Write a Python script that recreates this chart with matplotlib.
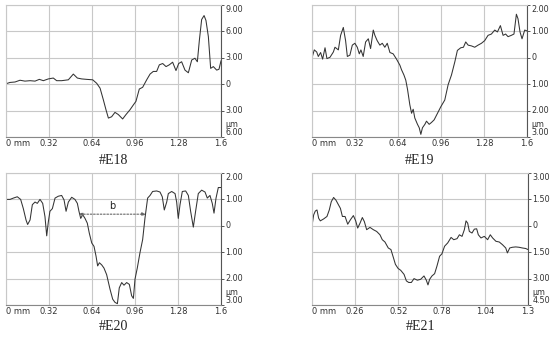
import matplotlib
matplotlib.use("Agg")
import matplotlib.pyplot as plt
import numpy as np

# ---------------- data ----------------
e18_x = [0.0, 0.03, 0.067, 0.104, 0.141, 0.179, 0.216, 0.248, 0.278, 0.315, 0.352, 0.377, 0.414,
         0.464, 0.501, 0.531, 0.563, 0.600, 0.645, 0.675, 0.700, 0.724, 0.744, 0.762, 0.786, 0.811,
         0.836, 0.868, 0.893, 0.923, 0.948, 0.967, 0.992, 1.017, 1.047, 1.072, 1.096, 1.121, 1.141,
         1.166, 1.191, 1.215, 1.240, 1.265, 1.285, 1.307, 1.332, 1.357, 1.382, 1.406, 1.424, 1.439,
         1.456, 1.474, 1.488, 1.506, 1.523, 1.543, 1.568, 1.585, 1.600]
e18_y = [0.05, 0.2, 0.25, 0.45, 0.35, 0.4, 0.35, 0.55, 0.4, 0.6, 0.7, 0.4, 0.4,
         0.5, 1.15, 0.7, 0.6, 0.55, 0.5, 0.1, -0.45, -1.75, -2.9, -3.85, -3.7, -3.2,
         -3.45, -3.95, -3.45, -2.9, -2.35, -1.95, -0.55, -0.35, 0.5, 1.15, 1.45, 1.45, 2.2,
         2.35, 2.0, 2.2, 2.5, 1.55, 2.35, 2.55, 1.6, 1.3, 2.75, 2.95, 2.55, 5.0,
         7.35, 7.8, 7.25, 5.4, 1.8, 2.0, 1.6, 1.7, 2.65]

e19_x = [0, 0.017, 0.035, 0.047, 0.064, 0.079, 0.097, 0.111, 0.134, 0.159, 0.171, 0.196, 0.213,
         0.233, 0.250, 0.263, 0.282, 0.300, 0.319, 0.337, 0.352, 0.364, 0.381, 0.399, 0.419, 0.436,
         0.456, 0.468, 0.485, 0.505, 0.523, 0.542, 0.560, 0.580, 0.604, 0.629, 0.654, 0.666, 0.684,
         0.698, 0.711, 0.728, 0.741, 0.753, 0.765, 0.785, 0.798, 0.810, 0.822, 0.840, 0.852, 0.872,
         0.889, 0.909, 0.934, 0.959, 0.988, 1.013, 1.038, 1.063, 1.082, 1.107, 1.127, 1.144, 1.162,
         1.187, 1.211, 1.236, 1.261, 1.285, 1.310, 1.335, 1.360, 1.380, 1.402, 1.422, 1.441, 1.459,
         1.483, 1.503, 1.521, 1.533, 1.548, 1.563, 1.583, 1.600]
e19_y = [0.0, 0.3, 0.22, 0.05, 0.2, -0.05, 0.38, -0.03, 0.02, 0.22, 0.4, 0.3, 0.85,
         1.15, 0.65, 0.05, 0.1, 0.48, 0.55, 0.4, 0.15, 0.3, 0.05, 0.6, 0.72, 0.35,
         1.05, 0.85, 0.65, 0.48, 0.55, 0.4, 0.55, 0.2, 0.15, -0.05, -0.28, -0.45, -0.65,
         -0.85, -1.2, -1.78, -2.1, -1.95, -2.28, -2.52, -2.65, -2.9, -2.65, -2.52, -2.4, -2.52,
         -2.45, -2.35, -2.1, -1.85, -1.6, -1.02, -0.65, -0.15, 0.28, 0.38, 0.4, 0.6, 0.48,
         0.45, 0.4, 0.48, 0.55, 0.65, 0.85, 0.9, 1.05, 0.98, 1.22, 0.85, 0.9, 0.8,
         0.85, 0.9, 1.65, 1.48, 0.98, 0.72, 1.05, 1.02]

e20_x = [0, 0.030, 0.055, 0.084, 0.109, 0.129, 0.149, 0.161, 0.179, 0.196, 0.216, 0.233, 0.253,
         0.273, 0.290, 0.303, 0.315, 0.327, 0.345, 0.365, 0.389, 0.414, 0.432, 0.447, 0.464, 0.489,
         0.513, 0.531, 0.543, 0.556, 0.571, 0.588, 0.605, 0.620, 0.638, 0.655, 0.670, 0.682, 0.695,
         0.712, 0.729, 0.749, 0.774, 0.794, 0.811, 0.829, 0.843, 0.861, 0.878, 0.898, 0.918, 0.935,
         0.948, 0.960, 0.977, 0.997, 1.017, 1.034, 1.054, 1.072, 1.091, 1.121, 1.146, 1.163, 1.178,
         1.196, 1.208, 1.233, 1.258, 1.270, 1.282, 1.295, 1.312, 1.337, 1.357, 1.374, 1.394, 1.411,
         1.431, 1.456, 1.481, 1.498, 1.518, 1.535, 1.548, 1.563, 1.580, 1.600]
e20_y = [1.0, 1.0, 1.05, 1.1, 1.0, 0.65, 0.22, 0.05, 0.22, 0.8, 0.9, 0.85, 1.0,
         0.85, 0.35, -0.38, 0.15, 0.55, 0.65, 1.05, 1.12, 1.15, 0.98, 0.55, 0.9, 1.08,
         1.0, 0.85, 0.55, 0.28, 0.42, 0.28, 0.1, -0.28, -0.65, -0.78, -1.15, -1.52, -1.4,
         -1.48, -1.6, -1.85, -2.4, -2.78, -2.9, -2.95, -2.35, -2.15, -2.25, -2.15, -2.22, -2.65,
         -2.75, -2.02, -1.6, -1.02, -0.52, 0.28, 1.05, 1.15, 1.3, 1.32, 1.28, 1.1, 0.6,
         0.9, 1.22, 1.3, 1.22, 0.9, 0.28, 0.8, 1.3, 1.32, 1.15, 0.55, -0.05, 0.55,
         1.22, 1.35, 1.28, 1.05, 1.15, 0.85, 0.48, 1.05, 1.45, 1.45]

e21_x = [0, 0.010, 0.020, 0.030, 0.040, 0.050, 0.070, 0.090, 0.104, 0.116, 0.130, 0.144, 0.160,
         0.171, 0.183, 0.199, 0.215, 0.231, 0.249, 0.263, 0.275, 0.289, 0.303, 0.315, 0.329, 0.349,
         0.369, 0.389, 0.409, 0.423, 0.439, 0.459, 0.475, 0.489, 0.502, 0.518, 0.534, 0.554, 0.568,
         0.582, 0.598, 0.614, 0.634, 0.654, 0.674, 0.688, 0.698, 0.708, 0.722, 0.738, 0.752, 0.768,
         0.782, 0.798, 0.817, 0.837, 0.853, 0.873, 0.887, 0.903, 0.917, 0.927, 0.937, 0.947, 0.963,
         0.977, 0.991, 1.001, 1.017, 1.037, 1.057, 1.073, 1.087, 1.107, 1.127, 1.146, 1.166, 1.176,
         1.190, 1.206, 1.226, 1.246, 1.266, 1.286, 1.300]
e21_y = [0.0, 0.62, 0.84, 0.9, 0.43, 0.28, 0.39, 0.53, 0.9, 1.37, 1.61, 1.46, 1.18,
         0.99, 0.53, 0.53, 0.09, 0.34, 0.58, 0.28, -0.13, 0.15, 0.47, 0.24, -0.22, -0.09,
         -0.22, -0.32, -0.51, -0.79, -0.92, -1.26, -1.35, -1.78, -2.19, -2.42, -2.53, -2.76, -3.13,
         -3.22, -3.22, -3.0, -3.09, -3.04, -2.85, -3.09, -3.36, -3.04, -2.85, -2.72, -2.29, -1.73,
         -1.59, -1.16, -0.97, -0.66, -0.79, -0.73, -0.51, -0.6, -0.22, 0.28, 0.15, -0.32, -0.41,
         -0.19, -0.17, -0.51, -0.69, -0.6, -0.79, -0.51, -0.69, -0.88, -0.92, -1.07, -1.26, -1.54,
         -1.26, -1.22, -1.2, -1.22, -1.26, -1.29, -1.35]

x_ticks_16 = [0, 0.32, 0.64, 0.96, 1.28, 1.6]
x_labels_16 = ["0 mm", "0.32", "0.64", "0.96", "1.28", "1.6"]
x_ticks_13 = [0, 0.26, 0.52, 0.78, 1.04, 1.3]
x_labels_13 = ["0 mm", "0.26", "0.52", "0.78", "1.04", "1.3"]

e18_yticks = [9, 6, 3, 0, -3, -6]
e18_ylabels = ["9.00", "6.00", "3.00", "0", "3.00", "µm\n6.00"]
e19_yticks = [2, 1, 0, -1, -2, -3]
e19_ylabels = ["2.00", "1.00", "0", "1.00", "2.00", "µm\n3.00"]
e21_yticks = [3, 1.5, 0, -1.5, -3, -4.5]
e21_ylabels = ["3.00", "1.50", "0", "1.50", "3.00", "µm\n4.50"]

titles = ["#E18", "#E19", "#E20", "#E21"]
b_x0, b_x1, b_y = 0.543, 1.04, 0.44

# ---------------- drawing ----------------
fig = plt.figure(figsize=(5.5, 3.37), dpi=100)
fig.patch.set_facecolor("white")

W, H = 550.0, 337.0
def ax_at(l, t, r, b):
    return fig.add_axes([l / W, 1 - b / H, (r - l) / W, (b - t) / H])

grid_c = "#c8c8c8"
line_c = "#333333"
txt_c = "#333333"

def style(ax, x, y, xt, xl, yt, yl, title, title_off):
    ax.plot(x, y, color=line_c, lw=0.75)
    ax.set_xlim(xt[0], xt[-1])
    ax.set_ylim(yt[-1], yt[0])
    ax.set_xticks(xt)
    ax.set_xticklabels(xl)
    ax.set_yticks(yt)
    ax.set_yticklabels(yl)
    ax.yaxis.tick_right()
    ax.grid(True, color=grid_c, lw=0.8)
    for s in ["top", "left"]:
        ax.spines[s].set_color(grid_c)
        ax.spines[s].set_linewidth(0.8)
    ax.spines["right"].set_color("#555555")
    ax.spines["right"].set_linewidth(0.8)
    ax.spines["bottom"].set_color("#888888")
    ax.spines["bottom"].set_linewidth(0.8)
    ax.tick_params(axis="y", direction="out", length=2.5, width=0.7, color="#555555",
                   pad=0.5, labelsize=5.8, labelcolor=txt_c)
    ax.tick_params(axis="x", direction="out", length=0, pad=1.5,
                   labelsize=6, labelcolor=txt_c)
    labs = ax.get_xticklabels()
    labs[0].set_horizontalalignment("left")
    ylabs = ax.get_yticklabels()
    for lab in ylabs:
        lab.set_verticalalignment("center")
    ylabs[0].set_verticalalignment("top")
    ylabs[-1].set_verticalalignment("bottom")
    ylabs[-1].set_linespacing(0.9)
    ax.text(0.5, title_off, title, transform=ax.transAxes, ha="center", va="center",
            fontsize=10, family="Liberation Serif", color="#222222")

ax1 = ax_at(6, 5, 221, 137)
style(ax1, e18_x, e18_y, x_ticks_16, x_labels_16, e18_yticks, e18_ylabels, titles[0], -0.18)
ax2 = ax_at(312, 5, 527, 137)
style(ax2, e19_x, e19_y, x_ticks_16, x_labels_16, e19_yticks, e19_ylabels, titles[1], -0.18)
ax3 = ax_at(6, 173, 221, 305)
style(ax3, e20_x, e20_y, x_ticks_16, x_labels_16, e19_yticks, e19_ylabels, titles[2], -0.16)
ax4 = ax_at(312, 173, 528, 305)
style(ax4, e21_x, e21_y, x_ticks_13, x_labels_13, e21_yticks, e21_ylabels, titles[3], -0.16)

ax3.annotate("", xy=(b_x1, b_y), xytext=(b_x0, b_y),
             arrowprops=dict(arrowstyle="<|-|>", linestyle=(0, (1.5, 1.5)), color="#666666",
                             lw=0.8, mutation_scale=5, shrinkA=0, shrinkB=0))
ax3.text((b_x0 + b_x1) / 2, b_y + 0.12, "b", ha="center", va="bottom", fontsize=7, color="#222222")

fig.savefig("out.png", dpi=100, facecolor="white")
